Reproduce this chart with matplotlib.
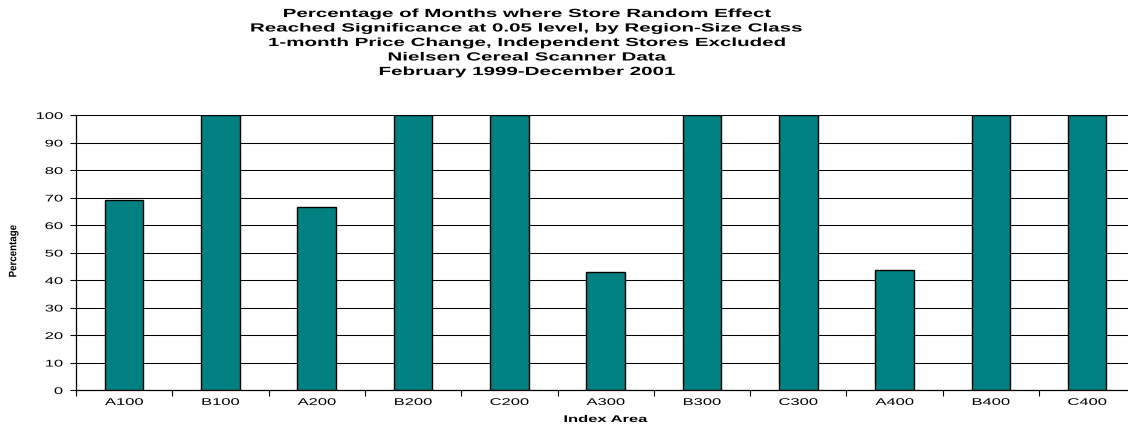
import matplotlib
matplotlib.use("Agg")
import matplotlib.pyplot as plt
import numpy as np
from matplotlib.patheffects import AbstractPathEffect
from matplotlib.transforms import Affine2D

plt.rcParams['font.family'] = ['Liberation Sans', 'DejaVu Sans']

categories = ["A100", "B100", "A200", "B200", "C200", "A300", "B300", "C300", "A400", "B400", "C400"]
percentages = [69.2, 100, 66.7, 100, 100, 42.9, 100, 100, 43.8, 100, 100]
yticks = [0, 10, 20, 30, 40, 50, 60, 70, 80, 90, 100]

title_lines = [
    "Percentage of Months where Store Random Effect",
    "Reached Significance at 0.05 level, by Region-Size Class",
    "1-month Price Change, Independent Stores Excluded",
    "Nielsen Cereal Scanner Data",
    "February 1999-December 2001",
]


class HStretch(AbstractPathEffect):
    """Draw text glyphs widened horizontally by a factor, about a chosen anchor."""

    def __init__(self, sx, anchor="center"):
        super().__init__()
        self.sx = sx
        self.anchor = anchor

    def draw_path(self, renderer, gc, tpath, affine, rgbFace=None):
        ext = tpath.get_extents(affine)
        if self.anchor == "right":
            cx = ext.x1
        elif self.anchor == "left":
            cx = ext.x0
        else:
            cx = 0.5 * (ext.x0 + ext.x1)
        aff = affine + Affine2D().translate(-cx, 0).scale(self.sx, 1).translate(cx, 0)
        renderer.draw_path(gc, tpath, aff, rgbFace)


SX = 1.7
W, H = 1128, 430
fig = plt.figure(figsize=(W / 100, H / 100), dpi=100)
left, right = 76, 76 + 11 * 96.3
bottom, top = 390, 115
ax = fig.add_axes([left / W, (H - bottom) / H, (right - left) / W, (bottom - top) / H])

x = np.arange(len(categories))
ax.bar(x, percentages, width=0.4, color="#008080", edgecolor="black", linewidth=1.0, zorder=3)

ax.set_xlim(-0.5, len(categories) - 0.5)
ax.set_ylim(0, 100)
ax.set_yticks(yticks)
ax.set_yticklabels([str(v) for v in yticks], fontsize=7)
ax.set_xticks(x)
ax.set_xticklabels(categories, fontsize=7)
ax.set_xticks(np.arange(len(categories) + 1) - 0.5, minor=True)
ax.tick_params(axis="x", which="major", length=0, pad=5)
ax.tick_params(axis="x", which="minor", length=4, width=0.8, direction="out")
ax.tick_params(axis="y", length=4.5, width=0.8, direction="out", pad=5)
for lbl in ax.get_xticklabels():
    lbl.set_path_effects([HStretch(SX, "center")])
for lbl in ax.get_yticklabels():
    lbl.set_path_effects([HStretch(SX, "right")])

ax.grid(axis="y", color="black", linewidth=0.75, zorder=0)
ax.set_axisbelow(True)
for s in ["top", "right"]:
    ax.spines[s].set_visible(False)
ax.spines["left"].set_linewidth(0.9)
ax.spines["bottom"].set_linewidth(0.9)

xl = ax.set_xlabel("Index Area", fontsize=7, fontweight="bold", va="center")
xl.set_path_effects([HStretch(SX, "center")])
ax.xaxis.set_label_coords(0.5, -(419 - bottom) / (bottom - top))

yl = fig.text(13 / W, 1 - 251 / H, "Percentage", rotation=90, fontsize=7, fontweight="bold",
              ha="center", va="center")
yl.set_path_effects([HStretch(1.1, "center")])

# Title, one line at a time
baselines = [17, 31.5, 46, 60.5, 75]
for txt, yy in zip(title_lines, baselines):
    t = fig.text(527 / W, 1 - yy / H, txt, ha="center", va="baseline",
                 fontsize=8.5, fontweight="bold")
    t.set_path_effects([HStretch(1.74, "center")])

fig.savefig("out.png", dpi=100)
